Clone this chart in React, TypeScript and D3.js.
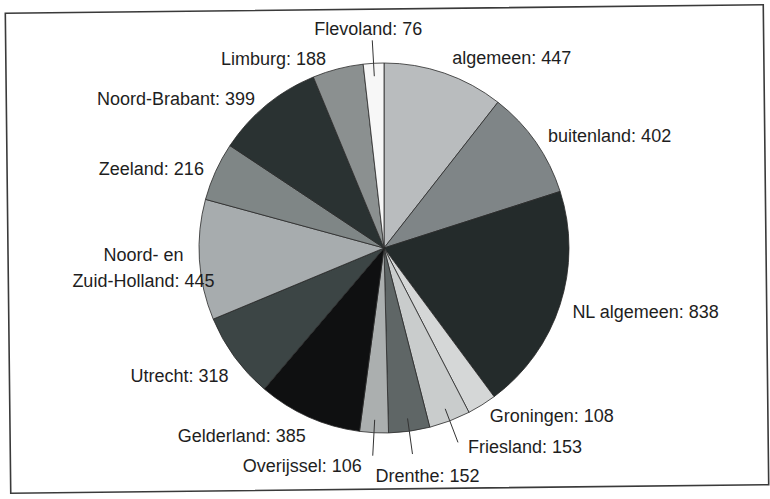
import React from 'react';
import * as d3 from 'd3';

// Publications per region (clockwise from 12 o'clock)
const REGIONS = [
  'algemeen', 'buitenland', 'NL algemeen', 'Groningen', 'Friesland', 'Drenthe',
  'Overijssel', 'Gelderland', 'Utrecht', 'Noord- en Zuid-Holland', 'Zeeland',
  'Noord-Brabant', 'Limburg', 'Flevoland',
];
const COUNTS = [447, 402, 838, 108, 153, 152, 106, 385, 318, 445, 216, 399, 188, 76];

// grey fills as scanned
const FILLS = [
  '#b9bcbe', '#7f8587', '#242b2b', '#d5d7d7', '#c9cccc', '#5f6666', '#abafaf',
  '#0f1011', '#3c4545', '#a7acae', '#7f8686', '#2a3232', '#8b9090', '#f7f7f7',
];

// label lines as they appear (the long Holland label wraps)
const LABEL_LINES: Record<string, string[]> = {
  'Noord- en Zuid-Holland': ['Noord- en', 'Zuid-Holland: 445'],
};

// small hand nudges for label placement
const NUDGE: Record<string, { dx: number; dy: number; anchor?: string }> = {
  algemeen: { dx: 3, dy: -1 },
  buitenland: { dx: 0, dy: 2 },
  'NL algemeen': { dx: -2, dy: 2 },
  Groningen: { dx: 0, dy: -2 },
  Gelderland: { dx: 3, dy: 5 },
  Utrecht: { dx: 6, dy: 10 },
  'Noord- en Zuid-Holland': { dx: -41, dy: -6, anchor: 'middle' },
  Zeeland: { dx: 2, dy: 3 },
  'Noord-Brabant': { dx: -2, dy: 5 },
  Limburg: { dx: -8, dy: 4 },
};

// slices too thin to label in place: label sits past a leader line
const LEADER: Record<string, { dx: number; dy: number; anchor: string }> = {
  Flevoland: { dx: -4, dy: -12, anchor: 'middle' },
  Friesland: { dx: 10, dy: 4, anchor: 'start' },
  Drenthe: { dx: 15, dy: 22, anchor: 'middle' },
  Overijssel: { dx: -11, dy: 10, anchor: 'end' },
};

const W = 770;
const H = 499;
const cx = 384;
const cy = 248;
const R = 185;

export default function App() {
  const rows = REGIONS.map((name, i) => ({ name, value: COUNTS[i], fill: FILLS[i] }));
  const pie = d3.pie<any>().value(d => d.value).sort(null);
  const arcs = pie(rows);
  const arc = d3.arc<any>().innerRadius(0).outerRadius(R);

  const polar = (a: number, r: number): [number, number] => [Math.sin(a) * r, -Math.cos(a) * r];

  return (
    <svg width={W} height={H} style={{ display: 'block' }}>
      <style>{`body { margin: 0; }`}</style>
      <rect width={W} height={H} fill="#fff" />
      <rect x={8} y={9} width={758} height={480} fill="none" stroke="#3a3a3a" strokeWidth={1.6}
        transform="rotate(-0.65 387 249)" />
      <g transform={`translate(${cx},${cy})`}>
        {arcs.map(d => (
          <path key={d.data.name} d={arc(d) as string} fill={d.data.fill} stroke="#2a2a2a" strokeWidth={0.8} />
        ))}
        {arcs.map(d => {
          const mid = (d.startAngle + d.endAngle) / 2;
          const name = d.data.name;
          const text = `${name}: ${d.data.value}`;
          const style = { fontFamily: '"Liberation Sans", Arial, sans-serif', fontSize: 18, fill: '#1e1e1e' };
          if (LEADER[name]) {
            const [x1, y1] = polar(mid, R * 0.93);
            const [x2, y2] = polar(mid, 208);
            const l = LEADER[name];
            return (
              <g key={name}>
                <line x1={x1} y1={y1} x2={x2} y2={y2} stroke="#333" strokeWidth={1} />
                <text x={x2 + l.dx} y={y2 + l.dy} dy="0.35em" textAnchor={l.anchor} style={style}>{text}</text>
              </g>
            );
          }
          const [px, py] = polar(mid, 200);
          const n = NUDGE[name] || { dx: 0, dy: 0 };
          const anchor = n.anchor || (px > 0 ? 'start' : 'end');
          const lines = LABEL_LINES[name] || [text];
          return (
            <text key={name} x={px + n.dx} y={py + n.dy} textAnchor={anchor} style={style}>
              {lines.map((ln, i) => (
                <tspan key={i} x={px + n.dx} dy={i === 0 ? '0.35em' : 26}>{ln}</tspan>
              ))}
            </text>
          );
        })}
      </g>
    </svg>
  );
}
